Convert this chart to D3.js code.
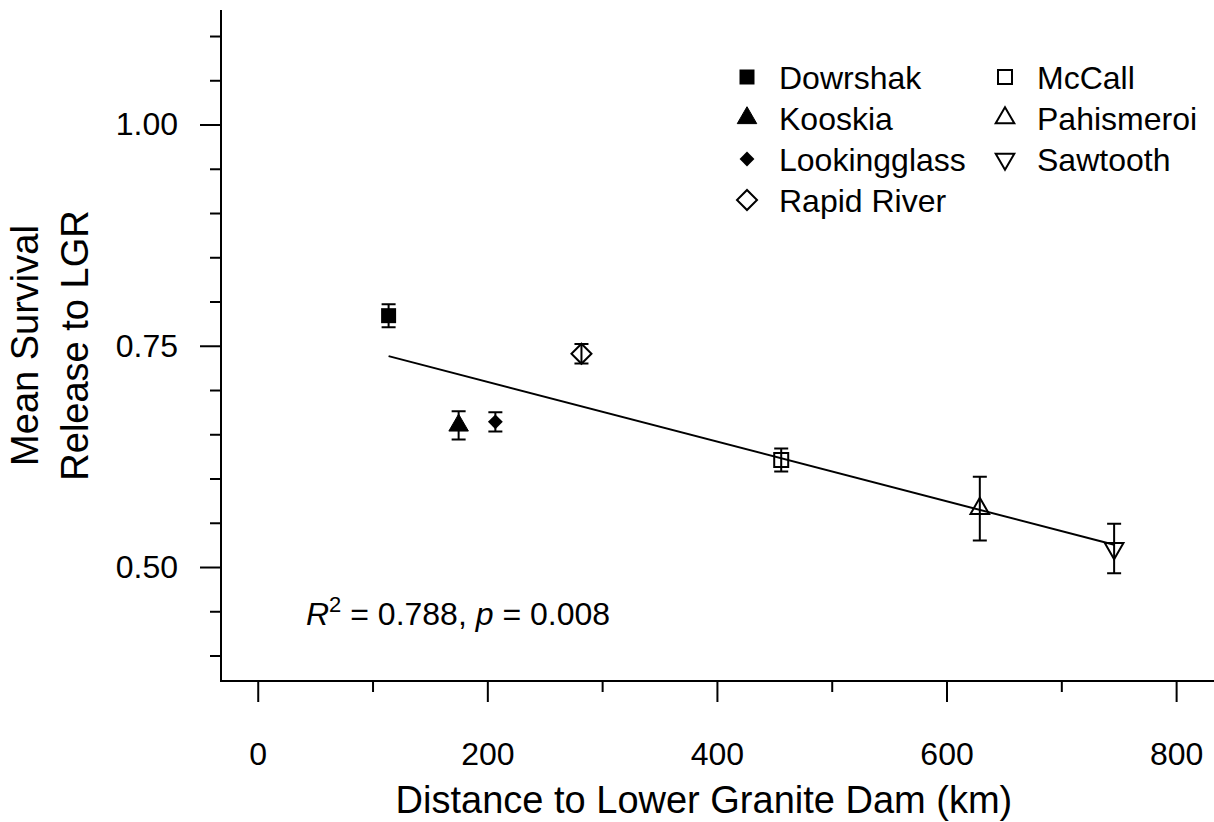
<!DOCTYPE html>
<html>
<head>
<meta charset="utf-8">
<script src="https://cdn.jsdelivr.net/npm/d3@7"></script>
<style>
  html, body { margin: 0; padding: 0; background: #fff; }
  svg text { font-family: "Liberation Sans", Arial, Helvetica, sans-serif; fill: #000; }
</style>
</head>
<body>
<div id="chart"></div>
<script>
// Hatchery release sites, distance to Lower Granite Dam and mean survival
const sites = ['Dowrshak', 'Kooskia', 'Lookingglass', 'Rapid River', 'McCall', 'Pahismeroi', 'Sawtooth'];
const distance = [114, 175, 207, 282, 456, 629, 746];
const survival = [0.784, 0.660, 0.664, 0.741, 0.621, 0.566, 0.521];
const stdErr = [0.013, 0.016, 0.011, 0.011, 0.013, 0.036, 0.028];
const shapes = ['squareFilled', 'triangleFilled', 'diamondFilled', 'diamondOpen', 'squareOpen', 'triangleOpen', 'triangleDown'];

// tick values
const xMajor = [0, 200, 400, 600, 800];
const xMinor = [100, 300, 500, 700];
const yMajor = [0.50, 0.75, 1.00];
const yMinor = [0.40, 0.45, 0.55, 0.60, 0.65, 0.70, 0.80, 0.85, 0.90, 0.95, 1.05, 1.10];

const width = 1214, height = 822;
const plotLeft = 221, plotBottom = 681, plotTop = 10;

const svg = d3.select('#chart').append('svg')
  .attr('width', width)
  .attr('height', height);

const x = d3.scaleLinear().domain([-32, 833]).range([plotLeft, width]);
const y = d3.scaleLinear().domain([0.3712, 1.1294]).range([plotBottom, plotTop]);

// axes (L-shaped box)
svg.append('path')
  .attr('d', `M${plotLeft},${plotTop}V${plotBottom}H${width}`)
  .attr('fill', 'none')
  .attr('stroke', '#000')
  .attr('stroke-width', 2);

function styleAxis(g) {
  g.select('.domain').remove();
  g.selectAll('line').attr('stroke', '#000').attr('stroke-width', 2);
  g.selectAll('text').style('font-size', '32px').attr('fill', '#000');
}

svg.append('g')
  .attr('transform', `translate(0,${plotBottom})`)
  .call(d3.axisBottom(x).tickValues(xMajor).tickSize(21).tickPadding(40).tickFormat(d3.format('d')))
  .call(styleAxis);

svg.append('g')
  .attr('transform', `translate(0,${plotBottom})`)
  .call(d3.axisBottom(x).tickValues(xMinor).tickSize(11).tickFormat(''))
  .call(styleAxis);

svg.append('g')
  .attr('transform', `translate(${plotLeft},0)`)
  .call(d3.axisLeft(y).tickValues(yMajor).tickSize(21).tickPadding(22).tickFormat(d3.format('.2f')))
  .call(styleAxis);

svg.append('g')
  .attr('transform', `translate(${plotLeft},0)`)
  .call(d3.axisLeft(y).tickValues(yMinor).tickSize(11).tickFormat(''))
  .call(styleAxis);

// axis titles
svg.append('text')
  .attr('x', x(400) - 13)
  .attr('y', 813)
  .attr('text-anchor', 'middle')
  .style('font-size', '38px')
  .text('Distance to Lower Granite Dam (km)');

const yTitle = svg.append('text')
  .attr('transform', `translate(38,${(plotTop + plotBottom) / 2}) rotate(-90)`)
  .attr('text-anchor', 'middle')
  .style('font-size', '38px');
yTitle.append('tspan').attr('x', 0).attr('y', 0).text('Mean Survival');
yTitle.append('tspan').attr('x', 0).attr('y', 50).text('Release to LGR');

// marker drawing
function marker(g, shape) {
  const sq = d3.symbol().type(d3.symbolSquare);
  const tri = d3.symbol().type(d3.symbolTriangle);
  if (shape === 'squareFilled') {
    g.append('path').attr('d', sq.size(225)()).attr('fill', '#000');
  } else if (shape === 'squareOpen') {
    g.append('path').attr('d', sq.size(196)()).attr('fill', 'none').attr('stroke', '#000').attr('stroke-width', 2);
  } else if (shape === 'triangleFilled') {
    g.append('path').attr('d', tri.size(165)()).attr('fill', '#000').attr('stroke', '#000').attr('stroke-width', 1);
  } else if (shape === 'triangleOpen') {
    g.append('path').attr('d', tri.size(150)()).attr('fill', 'none').attr('stroke', '#000').attr('stroke-width', 2);
  } else if (shape === 'triangleDown') {
    g.append('path').attr('d', tri.size(150)()).attr('transform', 'rotate(180)')
      .attr('fill', 'none').attr('stroke', '#000').attr('stroke-width', 2);
  } else if (shape === 'diamondFilled') {
    g.append('path').attr('d', sq.size(110)()).attr('transform', 'rotate(45)').attr('fill', '#000');
  } else if (shape === 'diamondOpen') {
    g.append('path').attr('d', sq.size(200)()).attr('transform', 'rotate(45)')
      .attr('fill', 'none').attr('stroke', '#000').attr('stroke-width', 2);
  }
}

// regression line (least squares fit of the means)
const mx = d3.mean(distance), my = d3.mean(survival);
const slope = d3.sum(distance, (d, i) => (d - mx) * (survival[i] - my)) /
  d3.sum(distance, d => (d - mx) * (d - mx));
const intercept = my - slope * mx;
const xr = d3.extent(distance);

svg.append('path')
  .datum(xr)
  .attr('d', d3.line().x(d => x(d)).y(d => y(intercept + slope * d)))
  .attr('fill', 'none')
  .attr('stroke', '#000')
  .attr('stroke-width', 2);

// points with error bars
const pts = sites.map((s, i) => ({ site: s, d: distance[i], s: survival[i], e: stdErr[i], shape: shapes[i] }));

const pg = svg.append('g').selectAll('g')
  .data(pts)
  .enter().append('g');

pg.each(function (p) {
  const g = d3.select(this);
  const m = g.append('g').attr('transform', `translate(${x(p.d)},${y(p.s)})`);
  marker(m, p.shape);
  const cx = x(p.d), cap = 7;
  g.append('path')
    .attr('d', `M${cx},${y(p.s + p.e)}V${y(p.s - p.e)}` +
      `M${cx - cap},${y(p.s + p.e)}H${cx + cap}` +
      `M${cx - cap},${y(p.s - p.e)}H${cx + cap}`)
    .attr('fill', 'none')
    .attr('stroke', '#000')
    .attr('stroke-width', 2);
});

// legend, two columns
const legendCols = [747, 1005];
const legendRows = [77, 118, 159, 200];
const perCol = 4;
pts.forEach((p, i) => {
  const col = Math.floor(i / perCol), row = i % perCol;
  const g = svg.append('g').attr('transform', `translate(${legendCols[col]},${legendRows[row]})`);
  marker(g, p.shape);
  g.append('text')
    .attr('x', 32)
    .attr('y', 11.5)
    .style('font-size', '32px')
    .text(p.site);
});

// fit statistics
const stat = svg.append('text')
  .attr('x', 306)
  .attr('y', 625)
  .style('font-size', '32px');
stat.append('tspan').style('font-style', 'italic').text('R');
stat.append('tspan').attr('dy', -13).style('font-size', '22px').text('2');
stat.append('tspan').attr('dy', 13).text(' = 0.788, ');
stat.append('tspan').style('font-style', 'italic').text('p');
stat.append('tspan').text(' = 0.008');
</script>
</body>
</html>
